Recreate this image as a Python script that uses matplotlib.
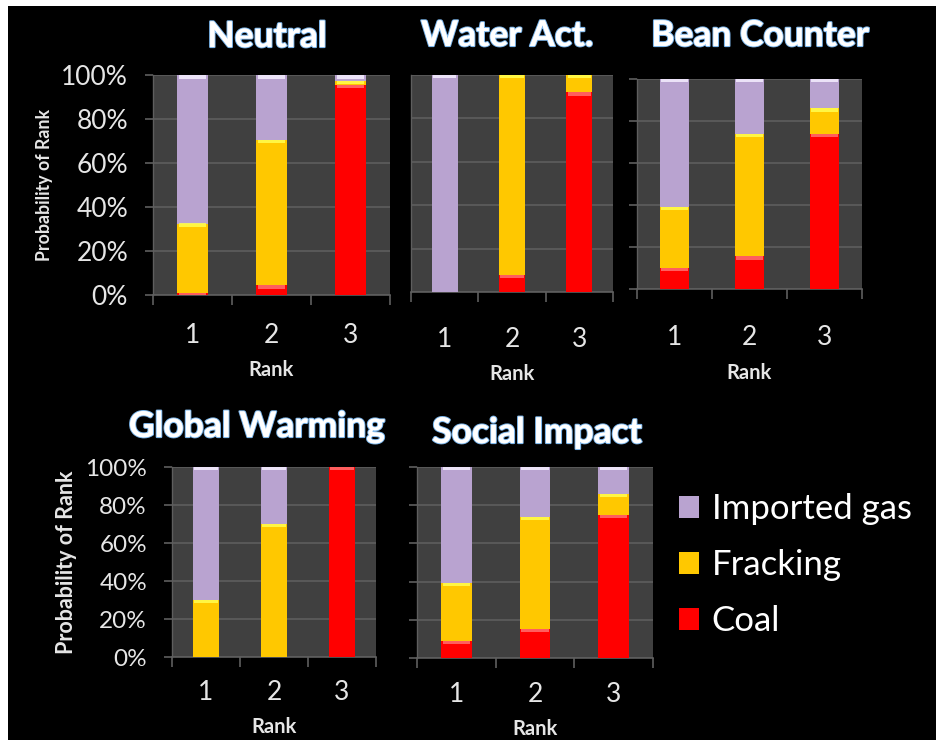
import numpy as np
import matplotlib.pyplot as plt
import matplotlib.patheffects as pe
from matplotlib.patches import Rectangle

plt.rcParams['font.family'] = ['Lato', 'DejaVu Sans']

ranks = ["1", "2", "3"]
fuels = ["Imported gas", "Fracking", "Coal"]
titles = ["Neutral", "Water Act.", "Bean Counter", "Global Warming", "Social Impact"]

# probability of each rank (%), one list per fuel, per scenario
coal = {
    "Neutral":        [1, 4.5, 95.5],
    "Water Act.":     [0, 8, 92],
    "Bean Counter":   [10, 15.5, 74],
    "Global Warming": [0, 0, 100],
    "Social Impact":  [9, 15, 75],
}
fracking = {
    "Neutral":        [31.5, 66, 2],
    "Water Act.":     [0, 92, 8],
    "Bean Counter":   [29, 58.5, 12],
    "Global Warming": [30, 70, 0],
    "Social Impact":  [30.5, 59, 11],
}
imported = {
    "Neutral":        [67.5, 29.5, 2.5],
    "Water Act.":     [100, 0, 0],
    "Bean Counter":   [61, 26, 14],
    "Global Warming": [70, 30, 0],
    "Social Impact":  [60.5, 26, 14],
}

colors = {"Coal": "#ff0000", "Fracking": "#ffc800", "Imported gas": "#b9a3d0"}
shine = {"Coal": "#ff7070", "Fracking": "#ffff50", "Imported gas": "#f4eeff"}

W, H = 937, 740
# axes boxes in pixels: x0, x1, ytop, ybottom
boxes = {
    "Neutral":        (153, 390, 75, 295),
    "Water Act.":     (411, 613, 75, 292),
    "Bean Counter":   (637, 862, 79, 289),
    "Global Warming": (172, 376, 467, 657),
    "Social Impact":  (417, 653, 467, 658),
}
# title centre x and baseline y, pixels
title_pos = {
    "Neutral":        (267, 47),
    "Water Act.":     (507, 46),
    "Bean Counter":   (760, 46),
    "Global Warming": (257, 437),
    "Social Impact":  (537, 443),
}
xtick_pad = {"Neutral": 20, "Water Act.": 25, "Bean Counter": 26,
             "Global Warming": 16.5, "Social Impact": 17}
ylab_size = {"Neutral": 12.8, "Global Warming": 15.5}
ytick_size = {"Neutral": 19, "Global Warming": 17.5}

fig = plt.figure(figsize=(W / 100, H / 100), dpi=100)
fig.patch.set_facecolor("black")
# thin white margin on the left and top
fig.patches.append(Rectangle((0, 0), 8 / W, 1, transform=fig.transFigure,
                             facecolor="white", edgecolor="none", zorder=-10))
fig.patches.append(Rectangle((0, 1 - 6 / H), 1, 6 / H, transform=fig.transFigure,
                             facecolor="white", edgecolor="none", zorder=-10))

txt = "#e6e6e6"
grid = "#5e5e5e"
x = np.arange(1, 4)

for name in titles:
    x0, x1, yt, yb = boxes[name]
    ax = fig.add_axes([x0 / W, 1 - yb / H, (x1 - x0) / W, (yb - yt) / H])
    ax.set_facecolor("#404040")
    bw = 0.39
    bottom = np.zeros(3)
    for fuel, data in (("Coal", coal), ("Fracking", fracking), ("Imported gas", imported)):
        v = np.array(data[name], dtype=float)
        ax.bar(x, v, bw, bottom=bottom, color=colors[fuel], edgecolor="none", zorder=3)
        # glossy rim at the top of each segment
        hl = np.minimum(v, 1.6)
        ax.bar(x, hl, bw * 0.9, bottom=bottom + v - hl, color=shine[fuel],
               edgecolor="none", zorder=4, alpha=0.85)
        bottom += v

    ax.set_xlim(0.5, 3.5)
    ax.set_ylim(0, 100)
    ax.set_yticks(np.arange(0, 101, 20))
    ax.yaxis.grid(True, color=grid, linewidth=1.2, zorder=1)
    ax.set_axisbelow(True)
    ax.set_xticks([0.5, 1.5, 2.5, 3.5])
    ax.set_xticklabels([])
    ax.set_xticks(x, minor=True)
    ax.set_xticklabels(ranks, minor=True, color=txt, fontsize=19)
    ax.tick_params(axis="x", which="major", length=7, color=grid, width=1.2)
    ax.tick_params(axis="x", which="minor", length=0, pad=xtick_pad[name])
    ax.tick_params(axis="y", length=0 if name == "Water Act." else 6,
                   color=grid, width=1.2, pad=12)
    for s in ("top", "right"):
        ax.spines[s].set_visible(False)
    ax.spines["bottom"].set_color(grid)
    ax.spines["left"].set_color(grid)
    ax.spines["bottom"].set_linewidth(1.2)
    ax.spines["left"].set_linewidth(1.0)
    if name in ylab_size:
        ax.set_yticklabels([f"{t}%" for t in range(0, 101, 20)], color=txt,
                           fontsize=ytick_size[name])
        ax.set_ylabel("Probability of Rank", color=txt, fontsize=ylab_size[name],
                      fontweight="bold", labelpad=6)
    else:
        ax.set_yticklabels([])
    ax.set_xlabel("Rank", color=txt, fontsize=14.5, fontweight="bold", labelpad=9)

    tx, ty = title_pos[name]
    t = fig.text(tx / W, 1 - ty / H, name, color="white", fontsize=25.5,
                 fontweight="bold", ha="center", va="baseline")
    t.set_path_effects([pe.withStroke(linewidth=1.6, foreground="#7fb8ec"), pe.Normal()])

# legend next to the last panel
handles = [Rectangle((0, 0), 1, 1, facecolor=colors[f], edgecolor="none") for f in fuels]
fig.legend(handles, fuels, loc="upper left", bbox_to_anchor=(648 / W, 1 - 462 / H),
           frameon=False, fontsize=25, labelcolor="white", handlelength=0.58,
           handleheight=0.58, handletextpad=0.35, labelspacing=0.69)

fig.savefig("out.png", dpi=100, facecolor=fig.get_facecolor())
